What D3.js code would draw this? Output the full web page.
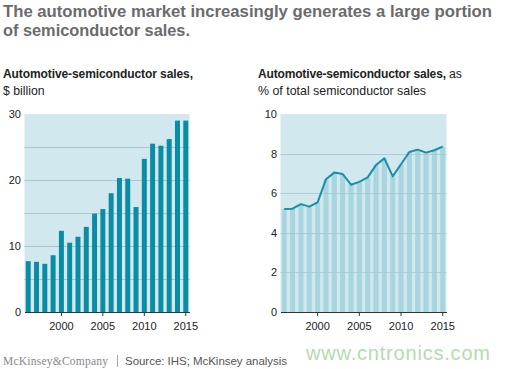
<!DOCTYPE html>
<html><head><meta charset="utf-8">
<script src="https://cdn.jsdelivr.net/npm/d3@7"></script>
<style>body{margin:0;background:#fff}svg{display:block}</style>
</head><body>
<script>
const years = d3.range(1996, 2016);
const salesBillion = [7.7,7.6,7.3,8.6,12.3,10.5,11.4,12.9,14.9,15.6,18.0,20.3,20.2,15.9,23.2,25.5,25.2,26.2,29.0,29.0];
const sharePct = [5.2,5.22,5.45,5.32,5.54,6.7,7.04,6.97,6.43,6.57,6.8,7.42,7.76,6.85,7.46,8.08,8.2,8.05,8.17,8.35];
const yearTicks = [2000,2005,2010,2015];
const leftTicks = [0,10,20,30];
const leftGrid = [5,10,15,20,25];
const rightTicks = [0,2,4,6,8,10];
const rightGrid = [2,4,6,8];

const W=510,H=369;
const svg=d3.select("body").append("svg").attr("width",W).attr("height",H);
const font="Liberation Sans, Arial, sans-serif";
const bg="#d0e8ee", barC="#0a8ca5", stripeC="#a8d5df", gridC="#a9c6cd", lineC="#1a8ea7", axisC="#333";

// Title
svg.append("text").attr("x",3).attr("y",17).attr("font-family",font).attr("font-weight","bold")
  .attr("font-size",17).attr("fill","#6b6b6b").attr("textLength",489).attr("lengthAdjust","spacingAndGlyphs")
  .text("The automotive market increasingly generates a large portion");
svg.append("text").attr("x",3).attr("y",36).attr("font-family",font).attr("font-weight","bold")
  .attr("font-size",17).attr("fill","#6b6b6b").attr("textLength",187).attr("lengthAdjust","spacingAndGlyphs").text("of semiconductor sales.");

// Subtitles
svg.append("text").attr("x",3).attr("y",78).attr("font-family",font).attr("font-size",12).attr("font-weight","bold")
  .attr("fill","#222").attr("textLength",190).text("Automotive-semiconductor sales,");
svg.append("text").attr("x",3).attr("y",95).attr("font-family",font).attr("font-size",12.3).attr("fill","#222")
  .text("$ billion");
svg.append("text").attr("x",258).attr("y",78).attr("font-family",font).attr("font-size",12).attr("font-weight","bold")
  .attr("fill","#222").attr("textLength",188).text("Automotive-semiconductor sales,");
svg.append("text").attr("x",449).attr("y",78).attr("font-family",font).attr("font-size",12.3).attr("fill","#222")
  .text("as");
svg.append("text").attr("x",258).attr("y",95).attr("font-family",font).attr("font-size",12.4).attr("fill","#222")
  .text("% of total semiconductor sales");

function panel(x0,x1,yMax){
  const x=d3.scaleBand().domain(years).range([x0,x1]).paddingInner(0.4).paddingOuter(0.15);
  const y=d3.scaleLinear().domain([0,yMax]).range([312,114]);
  const g=svg.append("g");
  g.append("rect").attr("x",x0).attr("y",y(yMax)).attr("width",x1-x0).attr("height",y(0)-y(yMax)).attr("fill",bg);
  return {x,y,g};
}
function bottomAxis(g,x){
  const ax=g.append("g").attr("transform","translate(0,312)")
    .call(d3.axisBottom(x).tickValues(yearTicks).tickSize(4).tickSizeOuter(0).tickPadding(6));
  ax.select(".domain").attr("stroke",axisC);
  ax.selectAll("line").attr("stroke",axisC);
  ax.selectAll("text").attr("font-family",font).attr("font-size",11).attr("fill","#222");
}

// Left panel
{
  const {x,y,g}=panel(24.5,189.5,30);
  g.selectAll(".grid").data(leftGrid).join("line").attr("x1",24.5).attr("x2",189.5)
    .attr("y1",d=>Math.round(y(d))+0.5).attr("y2",d=>Math.round(y(d))+0.5).attr("stroke",gridC).attr("stroke-width",1);
  g.selectAll(".bar").data(salesBillion).join("rect")
    .attr("x",(d,i)=>x(years[i])).attr("width",x.bandwidth())
    .attr("y",d=>y(d)).attr("height",d=>y(0)-y(d)).attr("fill",barC);
  bottomAxis(g,x);
  g.selectAll(".yl").data(leftTicks).join("text").attr("x",21).attr("y",d=>y(d)+4)
    .attr("text-anchor","end").attr("font-family",font).attr("font-size",11).attr("fill","#222").text(d=>d);
}

// Right panel
{
  const {x,y,g}=panel(280.5,446.5,10);
  g.selectAll(".stripe").data(sharePct).join("rect")
    .attr("x",(d,i)=>x(years[i])).attr("width",x.bandwidth())
    .attr("y",d=>y(d)).attr("height",d=>y(0)-y(d)).attr("fill",stripeC);
  g.selectAll(".grid").data(rightGrid).join("line").attr("x1",280.5).attr("x2",446.5)
    .attr("y1",d=>Math.round(y(d))+0.5).attr("y2",d=>Math.round(y(d))+0.5).attr("stroke",gridC).attr("stroke-width",1).attr("opacity",0.8);
  const line=d3.line().x((d,i)=>x(years[i])+x.bandwidth()/2).y(d=>y(d));
  g.append("path").datum(sharePct).attr("d",line).attr("fill","none").attr("stroke",lineC).attr("stroke-width",2).attr("stroke-linejoin","round");
  bottomAxis(g,x);
  g.selectAll(".yl").data(rightTicks).join("text").attr("x",277).attr("y",d=>y(d)+4)
    .attr("text-anchor","end").attr("font-family",font).attr("font-size",11).attr("fill","#222").text(d=>d);
}

// Footer
svg.append("text").attr("x",3).attr("y",365).attr("font-family","Liberation Serif, Times New Roman, serif")
  .attr("font-size",11.5).attr("fill","#888").attr("textLength",105).text("McKinsey&Company");
svg.append("line").attr("x1",117.5).attr("x2",117.5).attr("y1",355).attr("y2",367).attr("stroke","#aaa");
svg.append("text").attr("x",125).attr("y",365).attr("font-family",font).attr("font-size",11.5).attr("fill","#555")
  .attr("textLength",162).text("Source: IHS; McKinsey analysis");
svg.append("text").attr("x",306).attr("y",360).attr("font-family",font).attr("font-size",20).attr("fill","#b3dcae")
  .attr("textLength",184).text("www.cntronics.com");
</script>
</body></html>
